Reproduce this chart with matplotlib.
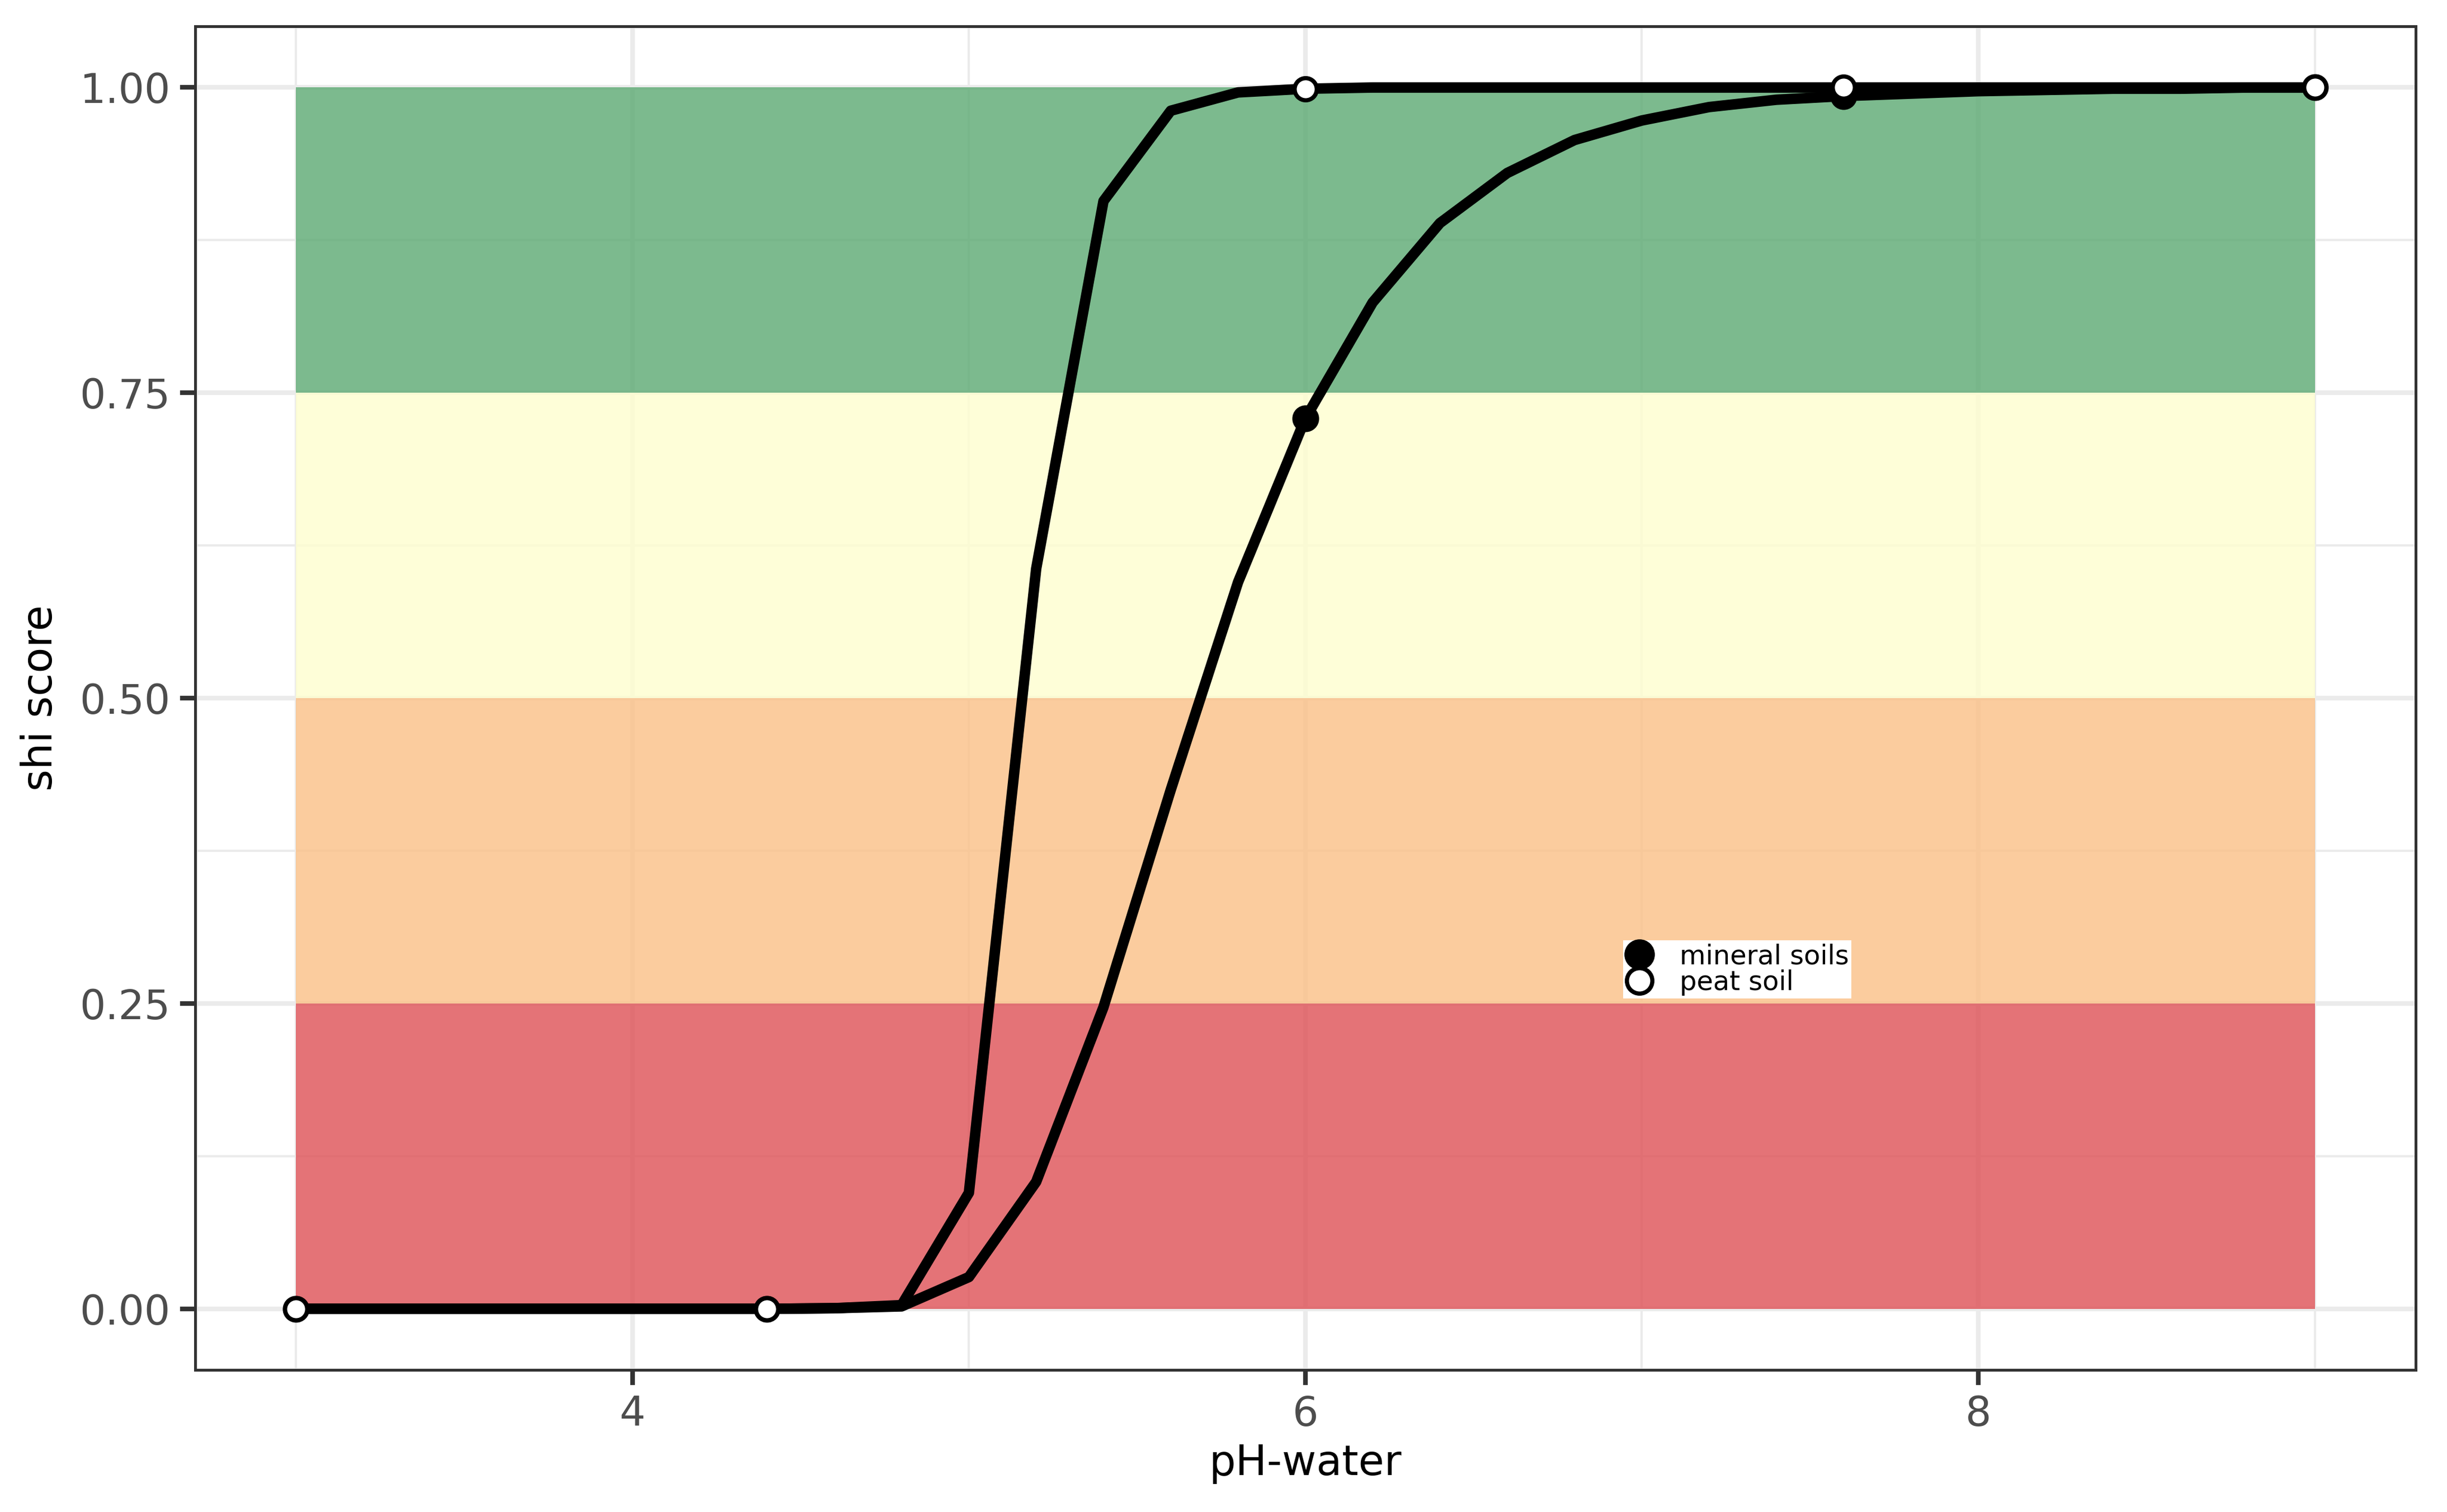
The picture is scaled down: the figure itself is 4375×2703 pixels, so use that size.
import matplotlib.pyplot as plt
import numpy as np

# pH grid the two curves were sampled on
ph = [3.0, 3.2, 3.4, 3.6, 3.8, 4.0, 4.2, 4.4, 4.6, 4.8, 5.0, 5.2, 5.4, 5.6, 5.8, 6.0,
      6.2, 6.4, 6.6, 6.8, 7.0, 7.2, 7.4, 7.6, 7.8, 8.0, 8.2, 8.4, 8.6, 8.8, 9.0]

# shi score per soil type
mineral = [0.0, 0.0, 0.0, 0.0, 0.0, 0.0, 0.0, 0.0, 0.0005, 0.002, 0.026, 0.104, 0.247, 0.425, 0.595, 0.729,
           0.824, 0.889, 0.930, 0.957, 0.973, 0.984, 0.990, 0.993, 0.995, 0.997, 0.998, 0.999, 0.999, 1.0, 1.0]
peat = [0.0, 0.0, 0.0, 0.0, 0.0, 0.0, 0.0, 0.0, 0.0005, 0.003, 0.095, 0.606, 0.907, 0.981, 0.996, 0.999,
        1.0, 1.0, 1.0, 1.0, 1.0, 1.0, 1.0, 1.0, 1.0, 1.0, 1.0, 1.0, 1.0, 1.0, 1.0]

# pH values that carry a marker
mark_ph = [3.0, 4.4, 6.0, 7.6, 9.0]

# score classes (background bands)
band_lo = [0.0, 0.25, 0.5, 0.75]
band_hi = [0.25, 0.5, 0.75, 1.0]
band_col = ['#de5055', '#fbc086', '#fefecf', '#5ba972']

fig = plt.figure(figsize=(4375 / 300, 2703 / 300), dpi=300)
ax = fig.add_axes([0.0797, 0.094, 0.9075, 0.8885])

ax.set_xlim(2.7, 9.3)
ax.set_ylim(-0.05, 1.05)
ax.set_xticks([4, 6, 8])
ax.set_xticks([3, 5, 7, 9], minor=True)
ax.set_yticks([0, 0.25, 0.5, 0.75, 1.0])
ax.set_yticklabels(['0.00', '0.25', '0.50', '0.75', '1.00'])
ax.set_yticks([0.125, 0.375, 0.625, 0.875], minor=True)
ax.grid(which='major', color='#ebebeb', linewidth=2.0, zorder=0)
ax.grid(which='minor', color='#ebebeb', linewidth=1.0, zorder=0)
ax.set_axisbelow(True)

for lo, hi, c in zip(band_lo, band_hi, band_col):
    ax.fill_between([min(ph), max(ph)], lo, hi, color=c, alpha=0.8, linewidth=0, zorder=1)

ax.plot(ph, mineral, color='black', linewidth=4.5, zorder=3)
ax.plot(ph, peat, color='black', linewidth=4.5, zorder=3)

mx = np.array(ph)
mi = [ph.index(p) for p in mark_ph]
ax.plot(mx[mi], np.array(mineral)[mi], 'o', color='black', markersize=10.5, zorder=4,
        label='mineral soils')
ax.plot(mx[mi], np.array(peat)[mi], 'o', markerfacecolor='white', markeredgecolor='black',
        markeredgewidth=1.8, markersize=9.5, zorder=5, linestyle='none', label='peat soil')

leg = ax.legend(loc='center', bbox_to_anchor=(0.6945, 0.298), fontsize=11.5, frameon=True,
                fancybox=False, framealpha=1, edgecolor='white', handlelength=1.0,
                handletextpad=1.0, labelspacing=0.0, borderpad=0.1, borderaxespad=0,
                markerscale=1.15)
leg.get_frame().set_linewidth(0)

for s in ax.spines.values():
    s.set_color('#333333')
    s.set_linewidth(1.2)
ax.tick_params(which='major', length=6.5, width=2.0, color='#333333', labelcolor='#4d4d4d',
               labelsize=17.5, pad=4)
ax.tick_params(which='minor', length=0)
ax.set_xlabel('pH-water', fontsize=18, labelpad=4)
ax.set_ylabel('shi score', fontsize=18, labelpad=8)

fig.savefig('out.png', dpi=300)
